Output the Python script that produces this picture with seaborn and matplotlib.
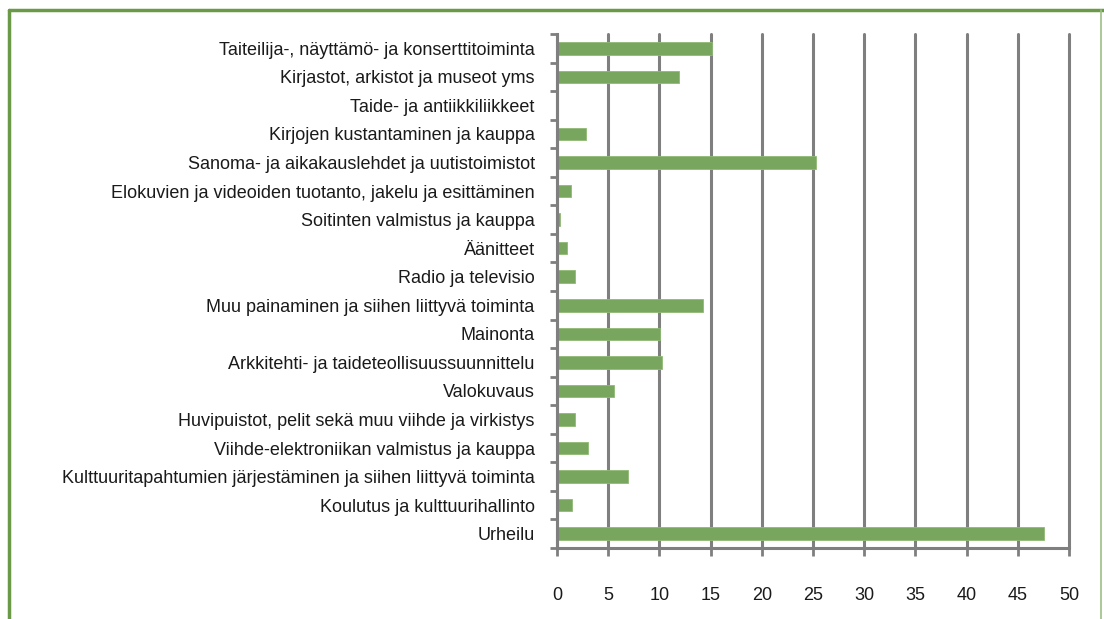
import matplotlib.pyplot as plt
import matplotlib.lines as mlines
from matplotlib.ticker import FixedLocator
import seaborn as sns
import pandas as pd

toimialat = [
    'Taiteilija-, näyttämö- ja konserttitoiminta',
    'Kirjastot, arkistot ja museot yms',
    'Taide- ja antiikkiliikkeet',
    'Kirjojen kustantaminen ja kauppa',
    'Sanoma- ja aikakauslehdet ja uutistoimistot',
    'Elokuvien ja videoiden tuotanto, jakelu ja esittäminen',
    'Soitinten valmistus ja kauppa',
    'Äänitteet',
    'Radio ja televisio',
    'Muu painaminen ja siihen liittyvä toiminta',
    'Mainonta',
    'Arkkitehti- ja taideteollisuussuunnittelu',
    'Valokuvaus',
    'Huvipuistot, pelit sekä muu viihde ja virkistys',
    'Viihde-elektroniikan valmistus ja kauppa',
    'Kulttuuritapahtumien järjestäminen ja siihen liittyvä toiminta',
    'Koulutus ja kulttuurihallinto',
    'Urheilu',
]
arvot = [15.1, 11.9, 0.0, 2.8, 25.3, 1.4, 0.3, 1.0, 1.8, 14.3,
         10.1, 10.3, 5.6, 1.8, 3.0, 6.9, 1.5, 47.6]
x_ticks = list(range(0, 51, 5))

df = pd.DataFrame({'toimiala': toimialat, 'arvo': arvot})

sns.set_style('white')
plt.rcParams['font.family'] = ['Liberation Sans', 'DejaVu Sans']

fig = plt.figure(figsize=(11.04, 6.19), dpi=100)
ax = fig.add_axes([0.5045, 0.1147, 0.4638, 0.8303])

sns.barplot(data=df, y='toimiala', x='arvo', orient='h', color='#79a65f',
            edgecolor='#8fba74', linewidth=0.6, width=0.44, saturation=1, ax=ax)

grey = '#7f7f7f'
ax.set_xlim(0, 50)
ax.set_ylim(len(toimialat) - 0.5, -0.5)
ax.set_xticks(x_ticks)
ax.xaxis.grid(True, color=grey, linewidth=2.2)
for gl in ax.get_xgridlines():
    gl.set_clip_on(False)
ax.set_axisbelow(True)
ax.set_xlabel('')
ax.set_ylabel('')

for s in ['top', 'right']:
    ax.spines[s].set_visible(False)
for s in ['left', 'bottom']:
    ax.spines[s].set_color(grey)
    ax.spines[s].set_linewidth(2.2)

# tick marks between categories
ax.yaxis.set_minor_locator(FixedLocator([i - 0.5 for i in range(len(toimialat) + 1)]))
ax.tick_params(axis='y', which='major', length=0, pad=16, labelsize=13, colors='#1a1a1a')
ax.tick_params(axis='y', which='minor', length=5, width=2, color=grey, left=True)
ax.tick_params(axis='x', which='major', length=6, width=2, color=grey, bottom=True,
               pad=22, labelsize=13, labelcolor='#1a1a1a')

# green frame
fc = '#6a9a47'
fig.add_artist(mlines.Line2D([0.0077, 0.0077], [0, 0.984], color=fc, linewidth=2.5, transform=fig.transFigure))
fig.add_artist(mlines.Line2D([0.0077, 1.0], [0.984, 0.984], color=fc, linewidth=2.5, transform=fig.transFigure))
fig.add_artist(mlines.Line2D([0.9975, 0.9975], [0, 0.984], color='#9cbf86', linewidth=1.2, transform=fig.transFigure))

fig.savefig('out.png', dpi=100)
